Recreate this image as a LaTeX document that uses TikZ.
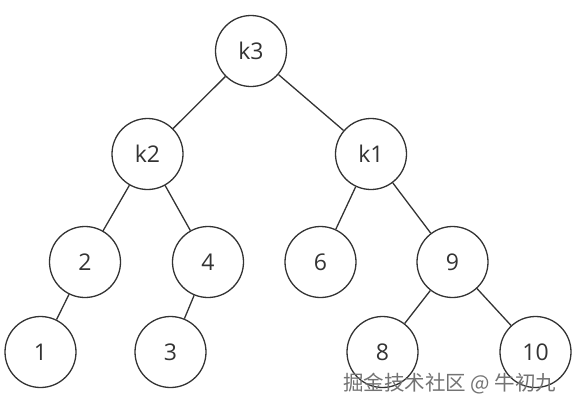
\documentclass[tikz,border=0pt]{standalone}
\usepackage{fontspec}
\setmainfont{Open Sans}
\newfontfamily\cjkfont{Noto Sans CJK SC}
\usetikzlibrary{positioning}
\definecolor{inkgray}{HTML}{333333}
\newcommand{\keyfont}{\fontsize{23}{27}\selectfont}

\begin{document}
\begin{tikzpicture}[x=1pt, y=-1pt, font=\keyfont,
  treenode/.style={circle, draw=inkgray, line width=1.3pt, minimum size=71pt, inner sep=0pt, text=inkgray},
  treeedge/.style={draw=inkgray, line width=1.3pt}]
\useasboundingbox (0,0) rectangle (580,408);
\node[treenode] (k3) at (251,51) {k3};
\node[treenode] (k2) at (147.5,154) {k2};
\node[treenode] (k1) at (371,154) {k1};
\node[treenode] (n2) at (85,262) {2};
\node[treenode] (n4) at (208,262) {4};
\node[treenode] (n6) at (320.5,262) {6};
\node[treenode] (n9) at (452.5,262) {9};
\node[treenode] (n1) at (40.5,352) {1};
\node[treenode] (n3) at (170.5,352) {3};
\node[treenode] (n8) at (382.5,352) {8};
\node[treenode] (n10) at (535.5,352) {10};

\draw[treeedge] (k3) -- (k2);
\draw[treeedge] (k3) -- (k1);
\draw[treeedge] (k2) -- (n2);
\draw[treeedge] (k2) -- (n4);
\draw[treeedge] (k1) -- (n6);
\draw[treeedge] (k1) -- (n9);
\draw[treeedge] (n2) -- (n1);
\draw[treeedge] (n4) -- (n3);
\draw[treeedge] (n9) -- (n8);
\draw[treeedge] (n9) -- (n10);

% watermark
\node[text=black!55, font=\cjkfont\fontsize{20.5}{24}\selectfont, anchor=base west, inner sep=0pt] (mark) at (343,390) {掘金技术社区 @ 牛初九};
\end{tikzpicture}
\end{document}
